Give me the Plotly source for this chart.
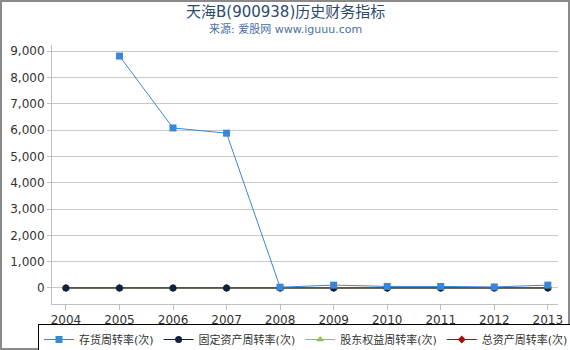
import plotly.graph_objects as go

years = [2004, 2005, 2006, 2007, 2008, 2009, 2010, 2011, 2012, 2013]
inventory_turnover = [None, 8810, 6080, 5880, 30, 110, 60, 60, 40, 110]
fixed_asset_turnover = [1.5, 2.0, 2.2, 2.1, 1.2, 1.0, 1.1, 1.0, 0.9, 1.0]
equity_turnover = [0.8, 0.9, 1.0, 0.9, 0.6, 0.5, 0.5, 0.5, 0.4, 0.5]
total_asset_turnover = [0.5, 0.6, 0.6, 0.6, 0.4, 0.3, 0.3, 0.3, 0.3, 0.3]

series = [
    ("存货周转率(次)", inventory_turnover, "#3a86d8", "square", 7),
    ("固定资产周转率(次)", fixed_asset_turnover, "#0f2340", "circle", 7),
    ("股东权益周转率(次)", equity_turnover, "#8cc43c", "triangle-up", 7),
    ("总资产周转率(次)", total_asset_turnover, "#a01010", "diamond", 6),
]

fig = go.Figure()
# draw in reverse so the first series sits on top; keep legend order via legendrank
for rank, (name, vals, color, sym, sz) in reversed(list(enumerate(series))):
    fig.add_trace(go.Scatter(
        x=years, y=vals, name=name, mode="lines+markers",
        line=dict(color=color, width=1),
        marker=dict(symbol=sym, size=sz, color=color),
        connectgaps=False, legendrank=rank + 1,
    ))

font = "DejaVu Sans, Noto Sans CJK SC, sans-serif"
L, R, T, B = 52, 12, 45, 46
PW, PH = 570 - L - R, 350 - T - B
fig.update_layout(
    width=570, height=350,
    margin=dict(l=L, r=R, t=T, b=B, autoexpand=False),
    paper_bgcolor="white", plot_bgcolor="white",
    font=dict(family=font, size=12, color="#333333"),
    showlegend=True,
    legend=dict(
        orientation="h", xref="paper", yref="paper", traceorder="normal",
        x=(38 - L) / PW, xanchor="left", y=-(324 - (350 - B)) / PH, yanchor="top",
        bordercolor="#000000", borderwidth=1, font=dict(size=11, color="#333333"),
        itemwidth=30, tracegroupgap=0,
    ),
    xaxis=dict(
        range=[2003.74, 2013.19], tickmode="array", tickvals=years,
        ticktext=[str(y) for y in years],
        showgrid=False, showline=True, linecolor="#c0c0c0", linewidth=1,
        ticks="outside", tickcolor="#c0c0c0", ticklen=5, zeroline=False,
        tickfont=dict(size=12, color="#333333"),
    ),
    yaxis=dict(
        range=[-608, 9230], tickvals=[0, 1000, 2000, 3000, 4000, 5000, 6000, 7000, 8000, 9000],
        tickformat=",", showgrid=True, gridcolor="#c8c8c8", gridwidth=1,
        showline=True, linecolor="#c0c0c0", ticks="outside", tickcolor="#c0c0c0", ticklen=4,
        zeroline=False, tickfont=dict(size=12, color="#333333"),
    ),
    annotations=[
        dict(text="天海B(900938)历史财务指标", xref="paper", yref="paper",
             x=(285 - L) / PW, y=1 + (T - 12) / PH, xanchor="center", yanchor="middle",
             showarrow=False, font=dict(size=15, color="#2b4a6e", family=font)),
        dict(text="来源: 爱股网 www.iguuu.com", xref="paper", yref="paper",
             x=(285 - L) / PW, y=1 + (T - 29) / PH, xanchor="center", yanchor="middle",
             showarrow=False, font=dict(size=11, color="#4a6f9c", family=font)),
    ],
)
fig.add_shape(type="rect", xref="paper", yref="paper",
              x0=-(L - 1) / PW, x1=1 + (R - 1) / PW, y0=-(B - 1) / PH, y1=1 + (T - 1) / PH,
              line=dict(color="#8a8a8a", width=2), layer="above")

fig.write_html("out.html")
